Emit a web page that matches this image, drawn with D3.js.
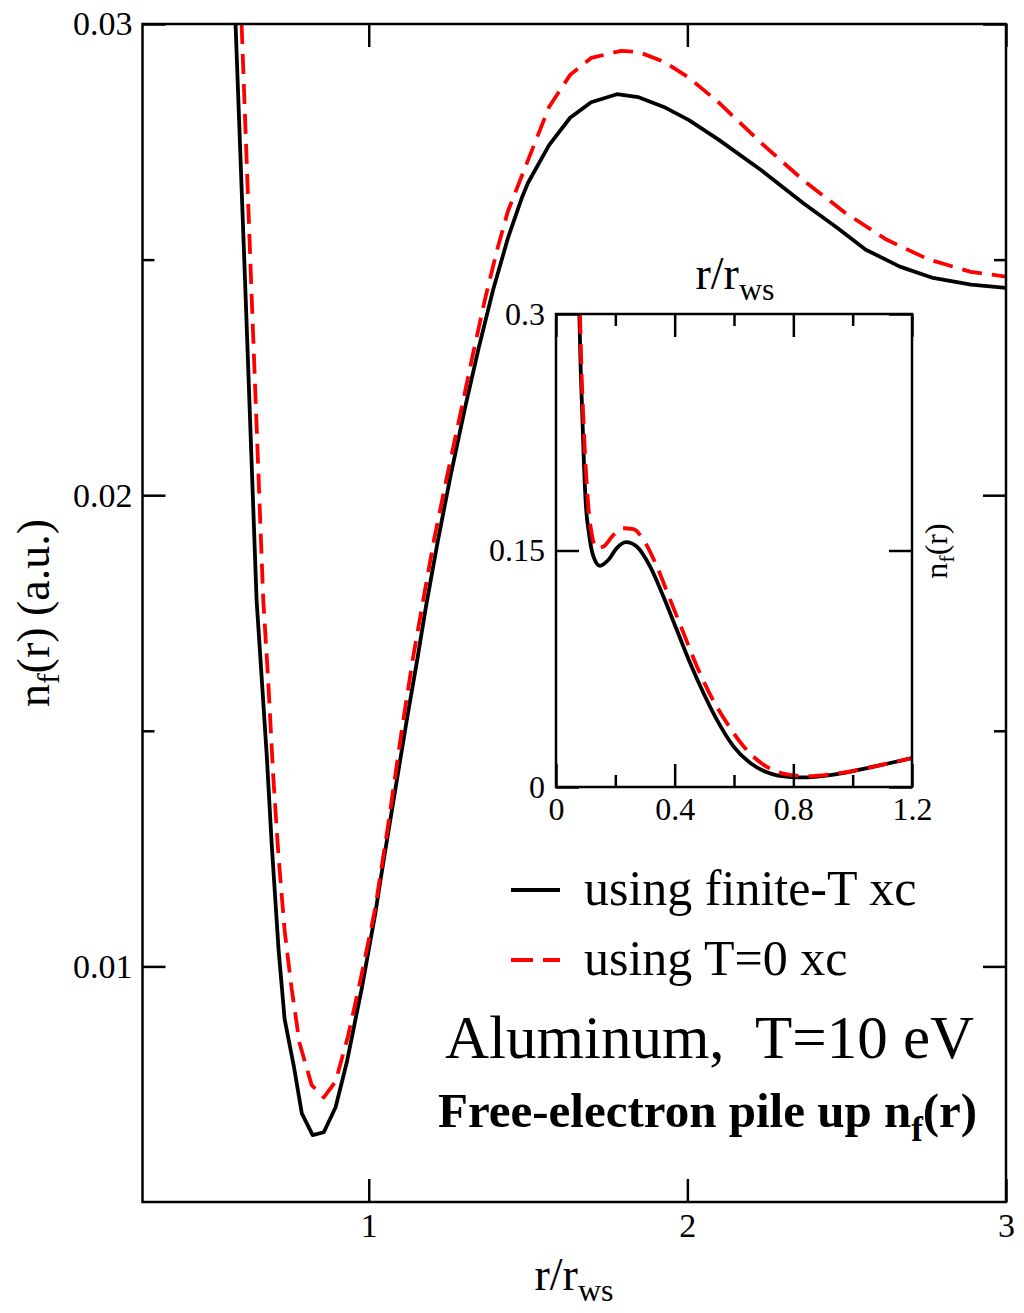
<!DOCTYPE html>
<html><head><meta charset="utf-8">
<script src="https://cdn.jsdelivr.net/npm/d3@7"></script>
<style>
body{margin:0;background:#fff}
svg{display:block}
text{font-family:"Liberation Serif","Times New Roman",Times,serif;fill:#000}
</style>
</head><body>
<svg id="c" width="1024" height="1313"></svg>
<script>
// ---------- main panel data ----------
const blackR = [0.582,0.614,0.648,0.664,0.680,0.695,0.717,0.736,0.765,0.790,0.824,0.859,0.896,0.931,0.978,1.020,1.048,1.076,1.120,1.152,1.180,1.216,1.255,1.302,1.345,1.390,1.437,1.481,1.500,1.566,1.632,1.698,1.779,1.845,1.926,2.005,2.099,2.231,2.363,2.469,2.560,2.667,2.771,2.890,3.0];
const blackN = [0.0300,0.02415,0.01778,0.01613,0.01447,0.01265,0.01036,0.00888,0.00788,0.00688,0.00642,0.00648,0.00701,0.00796,0.00953,0.01110,0.01230,0.01345,0.01525,0.01650,0.01765,0.01900,0.02035,0.02185,0.02312,0.02435,0.02546,0.02632,0.02663,0.02743,0.02801,0.02834,0.02851,0.02845,0.02824,0.02796,0.02754,0.02690,0.02620,0.02568,0.02521,0.02485,0.02461,0.02447,0.02440];
const redR = [0.601,0.633,0.669,0.684,0.700,0.716,0.736,0.758,0.783,0.821,0.859,0.896,0.935,0.976,1.020,1.061,1.1045,1.139,1.1767,1.2049,1.2457,1.2881,1.3273,1.365,1.4026,1.437,1.500,1.566,1.632,1.698,1.792,1.845,1.926,2.005,2.099,2.231,2.363,2.494,2.626,2.758,2.890,3.0];
const redN = [0.0300,0.02415,0.01778,0.01613,0.01407,0.01242,0.01076,0.00953,0.00837,0.00748,0.00722,0.00756,0.00852,0.00977,0.01122,0.01300,0.01505,0.01655,0.01799,0.01905,0.02040,0.02174,0.02300,0.02416,0.02520,0.02603,0.02711,0.02824,0.02892,0.02928,0.02943,0.02941,0.02920,0.02886,0.02833,0.02748,0.02669,0.02600,0.02542,0.02500,0.02474,0.02464];
const mainXTicks = [1,2,3];
const mainYTicks = [0.01,0.02,0.03];
const mainYMinor = [0.015,0.025];
const mainXLabels = ["1","2","3"];
const mainYLabels = ["0.01","0.02","0.03"];

// ---------- inset data ----------
const insBlackR = [0.0787,0.083,0.0889,0.0945,0.101,0.111,0.126,0.148,0.177,0.2047,0.236,0.272,0.317,0.362,0.407,0.452,0.497,0.542,0.598,0.655,0.711,0.790,0.846,0.936,1.048,1.2];
const insBlackN = [0.300,0.2666,0.235,0.2032,0.1779,0.161,0.1462,0.1403,0.1441,0.1515,0.1553,0.1525,0.1399,0.1208,0.0997,0.0786,0.0596,0.0427,0.0258,0.0152,0.0093,0.0063,0.0061,0.0078,0.0120,0.0184];
const insRedR = [0.081,0.0855,0.092,0.100,0.109,0.120,0.137,0.160,0.194,0.227,0.261,0.295,0.340,0.385,0.430,0.475,0.520,0.576,0.632,0.699,0.767,0.846,0.936,1.048,1.2];
const insRedN = [0.300,0.2666,0.235,0.2032,0.1779,0.161,0.1515,0.1525,0.1599,0.1641,0.1635,0.1567,0.1399,0.1187,0.0976,0.0765,0.0585,0.0406,0.0258,0.0142,0.0085,0.0068,0.0082,0.0120,0.0184];
const insXTicks = [0,0.4,0.8,1.2];
const insXMinor = [0.2,0.6,1.0];
const insYTicks = [0,0.15,0.3];
const insXLabels = ["0","0.4","0.8","1.2"];
const insYLabels = ["0","0.15","0.3"];

const legendLabels = ["using finite-T xc","using T=0 xc"];
const seriesColors = ["#000000","#ff0000"];

const svg = d3.select('#c');
const FW = 2.5;

function styleAxis(g, fs){
  g.select('.domain').remove();
  g.attr('font-family', null).attr('font-size', null);
  g.selectAll('line').attr('stroke','#000').attr('stroke-width',FW);
  g.selectAll('text').style('font-size', fs+'px');
}

function panel(cfg){
  const {x, y} = cfg;
  const [L,R] = x.range(); const [B,T] = y.range();
  const id = cfg.id;
  svg.append('clipPath').attr('id',id).append('rect')
    .attr('x',L).attr('y',T).attr('width',R-L).attr('height',B-T);
  svg.append('rect').attr('x',L).attr('y',T).attr('width',R-L).attr('height',B-T).attr('fill','#fff');
  const line = d3.line().curve(cfg.curve).x(d=>x(d[0])).y(d=>y(d[1]));
  const gl = svg.append('g').attr('clip-path',`url(#${id})`);
  cfg.series.forEach(s=>{
    gl.append('path').datum(d3.zip(s.r,s.n)).attr('d',line)
      .attr('fill','none').attr('stroke',s.color).attr('stroke-width',s.w)
      .attr('stroke-linejoin','round')
      .attr('stroke-dasharray', s.dash||null);
  });
  const fmtX = d=>cfg.xLabels[cfg.xTicks.indexOf(d)];
  const fmtY = d=>cfg.yLabels[cfg.yTicks.indexOf(d)];
  const gb = svg.append('g').attr('transform',`translate(0,${B})`)
    .call(d3.axisBottom(x).tickValues(cfg.xTicks).tickSize(-cfg.major).tickPadding(cfg.xPad).tickFormat(fmtX));
  styleAxis(gb, cfg.fs);
  const gt = svg.append('g').attr('transform',`translate(0,${T})`)
    .call(d3.axisTop(x).tickValues(cfg.xTicks).tickSize(-cfg.major).tickFormat(''));
  styleAxis(gt, cfg.fs);
  const gl2 = svg.append('g').attr('transform',`translate(${L},0)`)
    .call(d3.axisLeft(y).tickValues(cfg.yTicks).tickSize(-cfg.major).tickPadding(cfg.yPad).tickFormat(fmtY));
  styleAxis(gl2, cfg.fs);
  const gr = svg.append('g').attr('transform',`translate(${R},0)`)
    .call(d3.axisRight(y).tickValues(cfg.yTicks).tickSize(-cfg.major).tickFormat(''));
  styleAxis(gr, cfg.fs);
  if(cfg.xMinor){
    [['axisBottom',B],['axisTop',T]].forEach(([f,p])=>{
      const g = svg.append('g').attr('transform',`translate(0,${p})`)
        .call(d3[f](x).tickValues(cfg.xMinor).tickSize(-cfg.minor).tickFormat(''));
      styleAxis(g, cfg.fs);
    });
  }
  if(cfg.yMinor){
    [['axisLeft',L],['axisRight',R]].forEach(([f,p])=>{
      const g = svg.append('g').attr('transform',`translate(${p},0)`)
        .call(d3[f](y).tickValues(cfg.yMinor).tickSize(-cfg.minor).tickFormat(''));
      styleAxis(g, cfg.fs);
    });
  }
  svg.append('rect').attr('x',L).attr('y',T).attr('width',R-L).attr('height',B-T)
    .attr('fill','none').attr('stroke','#000').attr('stroke-width',FW);
}

// ---------- main panel ----------
const x = d3.scaleLinear().domain([0.29,3]).range([142.5,1006]);
const y = d3.scaleLinear().domain([0.005,0.03]).range([1202,24]);
panel({id:'clipMain', x, y, major:23, minor:12, fs:34, xPad:11, yPad:10, curve:d3.curveLinear,
  xTicks:mainXTicks, xLabels:mainXLabels, yTicks:mainYTicks, yLabels:mainYLabels, yMinor:mainYMinor,
  series:[{r:blackR,n:blackN,color:seriesColors[0],w:3.8},{r:redR,n:redN,color:seriesColors[1],w:3.8,dash:'20,10'}]});

// main axis titles
const xt = svg.append('text').attr('x',574).attr('y',1290).attr('text-anchor','middle').style('font-size','46px');
xt.append('tspan').text('r/r');
xt.append('tspan').attr('dy',11).style('font-size','32px').text('ws');

const yt = svg.append('text').attr('transform','translate(49,613) rotate(-90)').attr('text-anchor','middle').style('font-size','46px');
yt.append('tspan').text('n');
yt.append('tspan').attr('dy',10).style('font-size','32px').text('f');
yt.append('tspan').attr('dy',-10).text('(r) (a.u.)');

// ---------- inset ----------
const xi = d3.scaleLinear().domain([0,1.2]).range([556,912]);
const yi = d3.scaleLinear().domain([0,0.3]).range([787,314]);
panel({id:'clipIns', x:xi, y:yi, major:23, minor:12, fs:32, xPad:10, yPad:11, curve:d3.curveMonotoneX,
  xTicks:insXTicks, xLabels:insXLabels, yTicks:insYTicks, yLabels:insYLabels, xMinor:insXMinor,
  series:[{r:insBlackR,n:insBlackN,color:seriesColors[0],w:3.8},{r:insRedR,n:insRedN,color:seriesColors[1],w:3.8,dash:'20,10'}]});

const ixt = svg.append('text').attr('x',735).attr('y',289).attr('text-anchor','middle').style('font-size','46px');
ixt.append('tspan').text('r/r');
ixt.append('tspan').attr('dy',11).style('font-size','32px').text('ws');

const iyt = svg.append('text').attr('transform','translate(947,551) rotate(-90)').attr('text-anchor','middle').style('font-size','32px');
iyt.append('tspan').text('n');
iyt.append('tspan').attr('dy',7).style('font-size','22px').text('f');
iyt.append('tspan').attr('dy',-7).text('(r)');

// ---------- legend ----------
const legY = [890, 960];
legendLabels.forEach((lab,i)=>{
  svg.append('line').attr('x1',511).attr('x2',560).attr('y1',legY[i]).attr('y2',legY[i])
    .attr('stroke',seriesColors[i]).attr('stroke-width',3.8).attr('stroke-dasharray', i? '22,10':null);
  svg.append('text').attr('x',584).attr('y',legY[i]+15).style('font-size','50px').text(lab);
});

svg.append('text').attr('x',445).attr('y',1058).style('font-size','61px').text('Aluminum,\u00a0\u00a0T=10 eV');
const ft = svg.append('text').attr('x',438).attr('y',1127).style('font-size','49px').style('font-weight','bold');
ft.append('tspan').text('Free-electron pile up n');
ft.append('tspan').attr('dy',14).style('font-size','35px').text('f');
ft.append('tspan').attr('dy',-14).text('(r)');
</script>
</body></html>
